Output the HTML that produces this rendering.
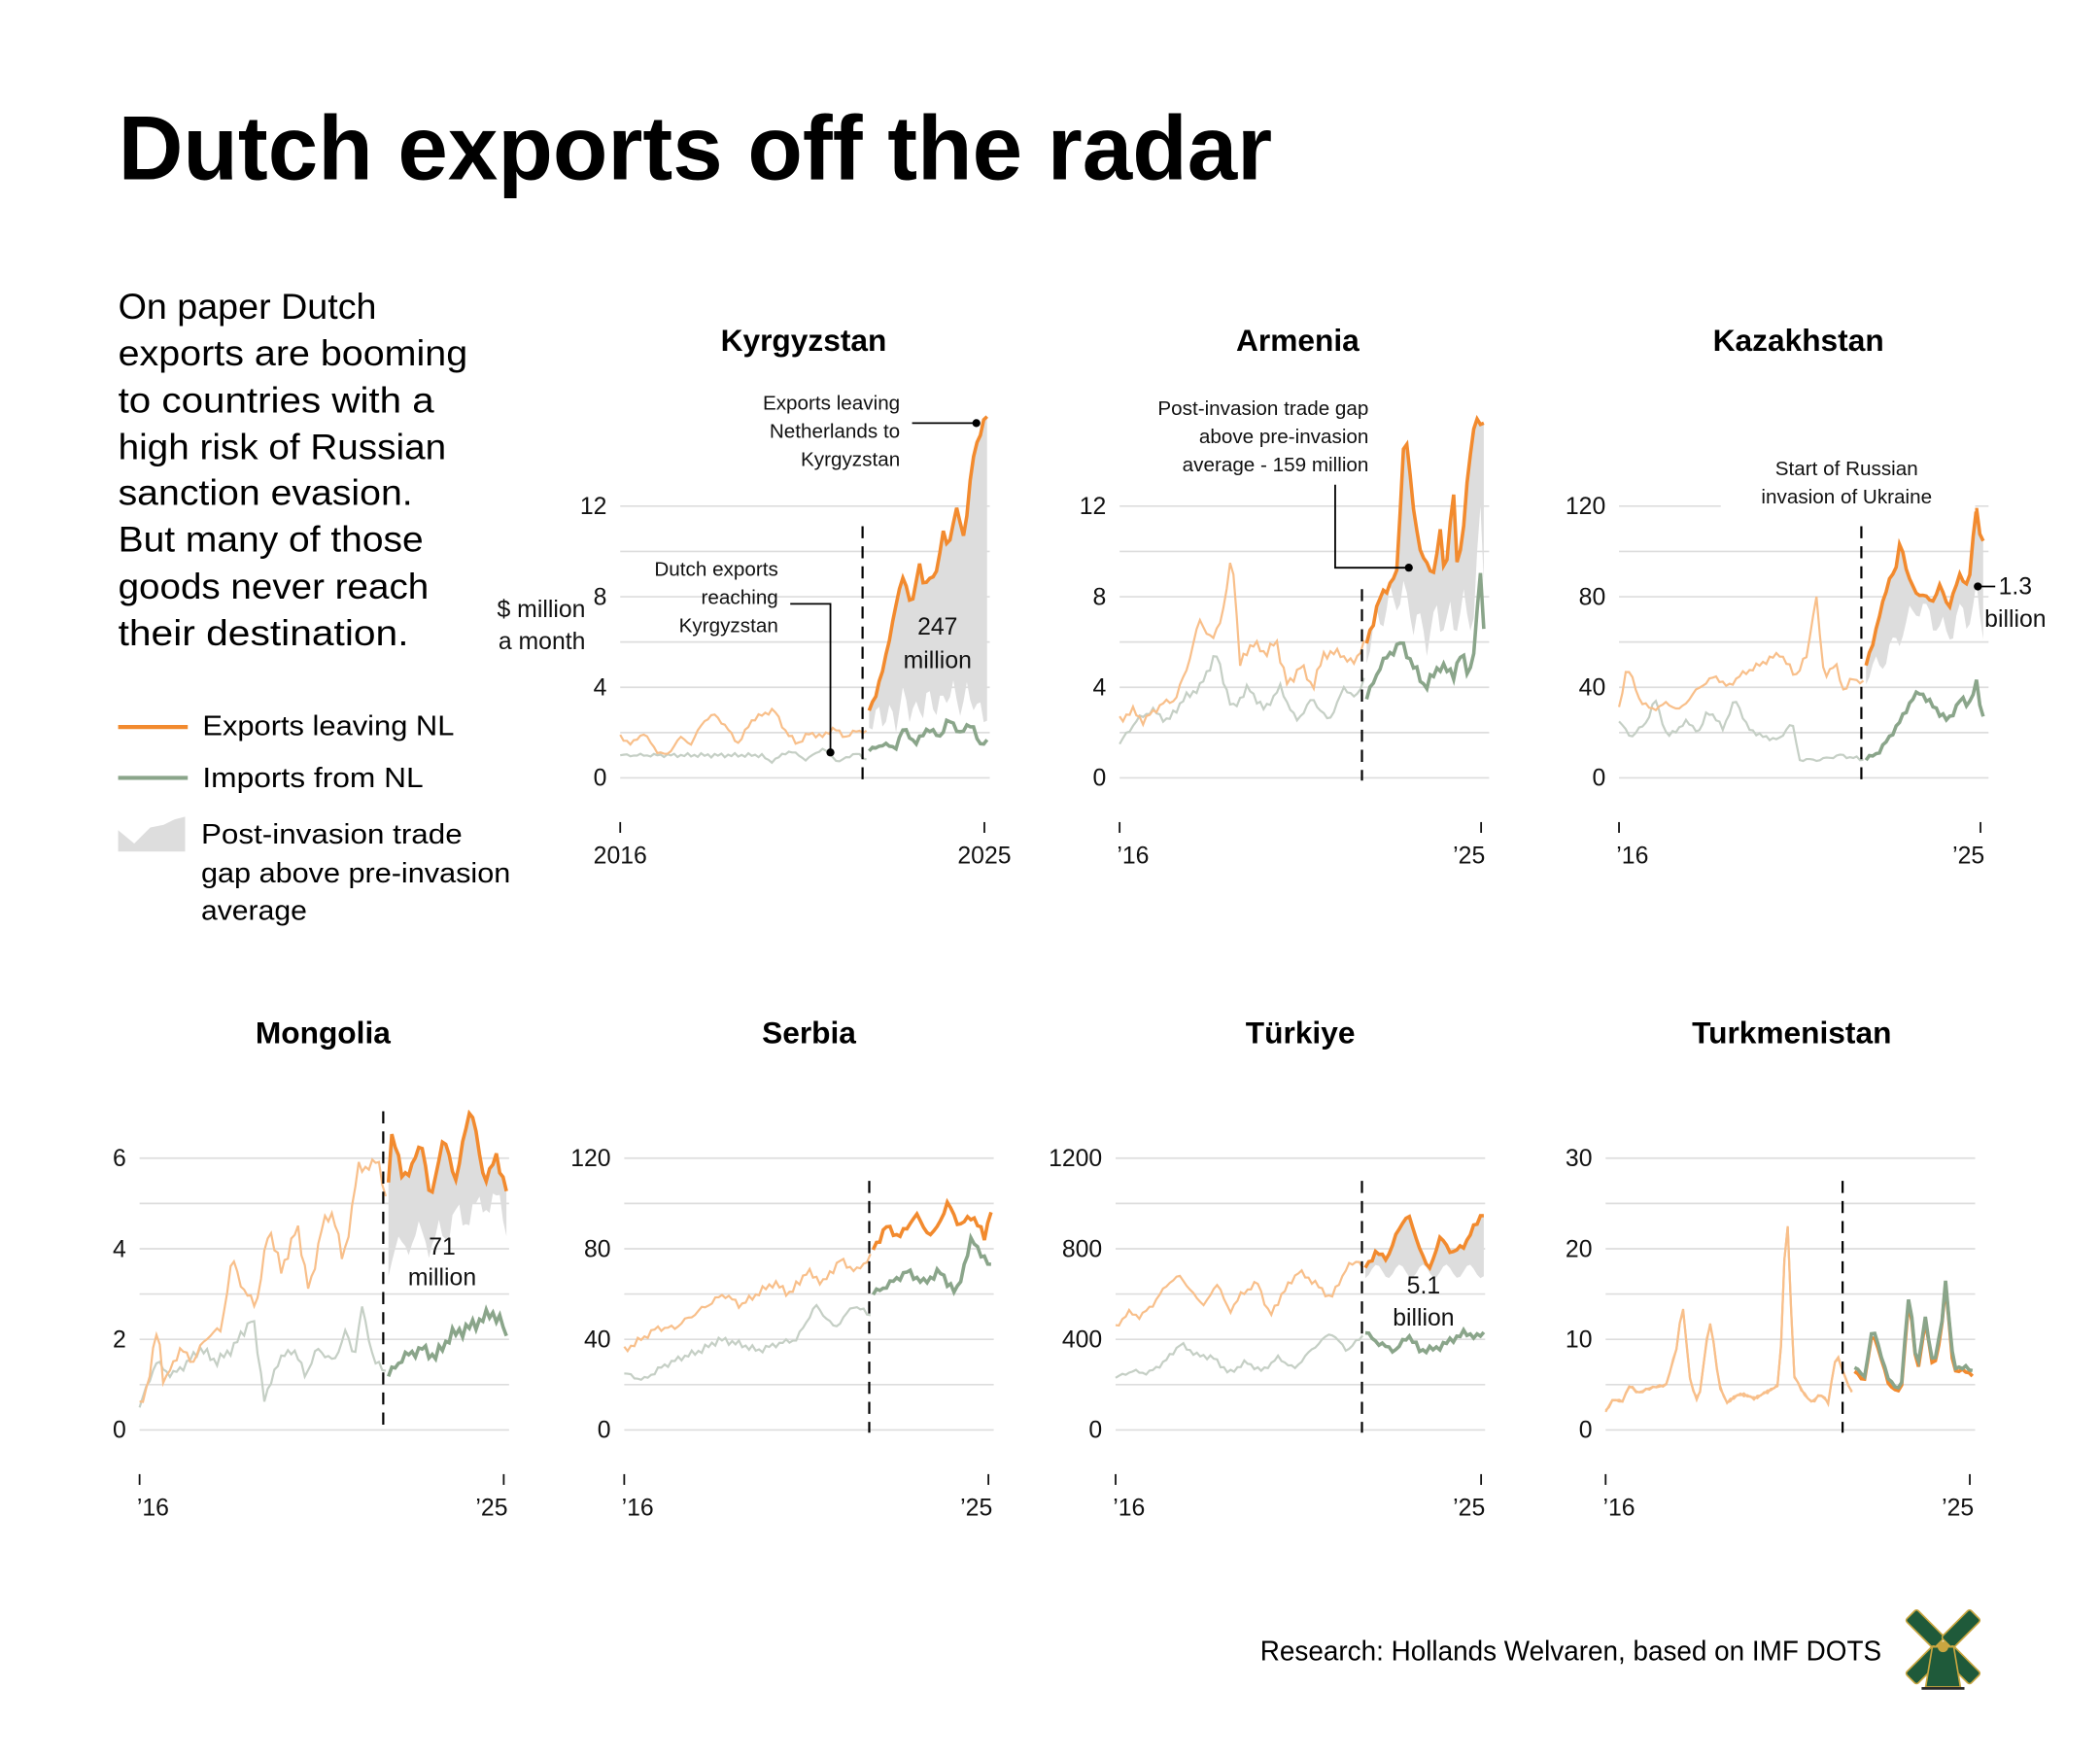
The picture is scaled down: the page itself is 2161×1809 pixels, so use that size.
<!DOCTYPE html>
<html><head><meta charset="utf-8">
<style>
html,body{margin:0;padding:0;background:#fff;}
svg{display:block;font-family:"Liberation Sans Narrow","Liberation Sans",sans-serif;}
</style></head>
<body>
<svg id="s" width="2161" height="1809" viewBox="0 0 1568 1313" xmlns="http://www.w3.org/2000/svg">
<rect width="1568" height="1313" fill="#fff"/>
<text x="88" y="134" font-size="68" font-weight="bold" textLength="862" lengthAdjust="spacingAndGlyphs" fill="#000">Dutch exports off the radar</text>
<g font-size="27" fill="#000">
<text x="88" y="238" textLength="193" lengthAdjust="spacingAndGlyphs">On paper Dutch</text>
<text x="88" y="273" textLength="261" lengthAdjust="spacingAndGlyphs">exports are booming</text>
<text x="88" y="308" textLength="236" lengthAdjust="spacingAndGlyphs">to countries with a</text>
<text x="88" y="343" textLength="245" lengthAdjust="spacingAndGlyphs">high risk of Russian</text>
<text x="88" y="377" textLength="220" lengthAdjust="spacingAndGlyphs">sanction evasion.</text>
<text x="88" y="412" textLength="228" lengthAdjust="spacingAndGlyphs">But many of those</text>
<text x="88" y="447" textLength="232" lengthAdjust="spacingAndGlyphs">goods never reach</text>
<text x="88" y="482" textLength="217" lengthAdjust="spacingAndGlyphs">their destination.</text>
</g>
<line x1="88" y1="543" x2="140" y2="543" stroke="#f28a2e" stroke-width="3"/>
<text x="151" y="549" font-size="21" textLength="188" lengthAdjust="spacingAndGlyphs">Exports leaving NL</text>
<line x1="88" y1="581" x2="140" y2="581" stroke="#8aa58a" stroke-width="3"/>
<text x="151" y="588" font-size="21" textLength="165" lengthAdjust="spacingAndGlyphs">Imports from NL</text>
<path d="M88,636 L88,620 L100,630 L112,618 L122,616 L130,612 L138,610 L138,636 Z" fill="#ddd"/>
<g font-size="21"><text x="150" y="630" textLength="195" lengthAdjust="spacingAndGlyphs">Post-invasion trade</text>
<text x="150" y="659" textLength="231" lengthAdjust="spacingAndGlyphs">gap above pre-invasion</text>
<text x="150" y="687" textLength="79" lengthAdjust="spacingAndGlyphs">average</text></g>
<g id="charts"></g>
<g font-size="15" fill="#111">
<text x="672" y="306" text-anchor="end">Exports leaving</text>
<text x="672" y="327" text-anchor="end">Netherlands to</text>
<text x="672" y="348" text-anchor="end">Kyrgyzstan</text>
<text x="581" y="430" text-anchor="end">Dutch exports</text>
<text x="581" y="451" text-anchor="end">reaching</text>
<text x="581" y="472" text-anchor="end">Kyrgyzstan</text>
<text x="1022" y="310" text-anchor="end">Post-invasion trade gap</text>
<text x="1022" y="331" text-anchor="end">above pre-invasion</text>
<text x="1022" y="352" text-anchor="end">average - 159 million</text>
<rect x="1285" y="338" width="190" height="44" fill="#fff"/>
<text x="1379" y="355" text-anchor="middle">Start of Russian</text>
<text x="1379" y="376" text-anchor="middle">invasion of Ukraine</text>
</g>
<g stroke="#000" stroke-width="1.3" fill="none">
<polyline points="681,316 729,316"/>
<polyline points="590,451 620,451 620,562"/>
<polyline points="997,362 997,424 1052,424"/>
<polyline points="1477,438 1490,438"/>
</g>
<g fill="#000"><circle cx="729" cy="316" r="3"/><circle cx="620" cy="562" r="3"/><circle cx="1052" cy="424" r="3"/><circle cx="1477" cy="438" r="3"/></g>
<g font-size="18" fill="#111" text-anchor="middle">
<text x="700" y="474">247</text><text x="700" y="499">million</text>
<text x="437" y="461" text-anchor="end">$ million</text><text x="437" y="485" text-anchor="end">a month</text>
<text x="1505" y="444">1.3</text><text x="1505" y="468">billion</text>
<text x="330" y="937">71</text><text x="330" y="960">million</text>
<text x="1063" y="966">5.1</text><text x="1063" y="990">billion</text>
</g>
<text x="1405" y="1240" font-size="21" text-anchor="end" textLength="464" lengthAdjust="spacingAndGlyphs">Research: Hollands Welvaren, based on IMF DOTS</text>
<g transform="translate(1451,1230)">
<g fill="#1f5a3a" stroke="#c9a640" stroke-width="1.2">
<rect x="-6" y="-34" width="12" height="30" rx="2" transform="rotate(-45)"/>
<rect x="-6" y="-34" width="12" height="30" rx="2" transform="rotate(45)"/>
<rect x="-6" y="4" width="12" height="30" rx="2" transform="rotate(-45)"/>
<rect x="-6" y="4" width="12" height="30" rx="2" transform="rotate(45)"/>
<path d="M-8,0 L8,0 L13,30 L-13,30 Z"/>
</g>
<circle cx="0" cy="0" r="4" fill="#c9a640"/>
<line x1="-16" y1="31" x2="16" y2="31" stroke="#2b2b2b" stroke-width="2"/>
</g>
</svg>
<script>
var NS="http://www.w3.org/2000/svg",G=document.getElementById("charts");
function el(t,a,p){var e=document.createElementNS(NS,t);for(var k in a)e.setAttribute(k,a[k]);(p||G).appendChild(e);return e;}
function interp(k,t){if(t<=k[0][0])return k[0][1];for(var i=1;i<k.length;i++){if(t<=k[i][0]){var a=k[i-1],b=k[i];return a[1]+(b[1]-a[1])*(t-a[0])/(b[0]-a[0]);}}return k[k.length-1][1];}
function ser(k,amp,seed,t0,t1){var r=[];for(var t=t0;t<=t1+1e-6;t+=1/12){var n=Math.sin(t*37.1+seed)*0.6+Math.sin(t*91.7+seed*2)*0.4;r.push([t,interp(k,t)+n*amp]);}return r;}
function evenK(arr,t0,t1){var r=[];for(var i=0;i<arr.length;i++)r.push([t0+(t1-t0)*i/(arr.length-1),arr[i]]);return r;}
var INV=6.15,END=9.1;
function panel(o){
 var X=function(t){return o.x0+t*(o.tick-o.x0)/9},Y=function(v){return o.y0-v*o.k};
 el("text",{x:o.tc,y:o.ty,"font-size":23,"font-weight":"bold","text-anchor":"middle",fill:"#000"}).textContent=o.name;
 for(var i=0;i<7;i++){var y=o.y0-i*(o.y0-o.ytop)/6;el("line",{x1:o.x0,x2:o.x0+276,y1:y,y2:y,stroke:"#ddd","stroke-width":1.2});}
 for(var i=0;i<4;i++){var y=o.y0-i*(o.y0-o.ytop)/3;var t=el("text",{x:o.x0-10,y:y+6,"font-size":18,"text-anchor":"end",fill:"#111"});t.textContent=o.labs[i];}
 el("line",{x1:o.x0,x2:o.x0,y1:o.y0+33,y2:o.y0+41,stroke:"#111","stroke-width":1.3});
 el("line",{x1:o.tick,x2:o.tick,y1:o.y0+33,y2:o.y0+41,stroke:"#111","stroke-width":1.3});
 el("text",{x:o.x0-(o.full?20:2),y:o.y0+64,"font-size":18,fill:"#111"}).textContent=o.full?"2016":"\u201916";
 el("text",{x:o.tick+(o.full?20:3),y:o.y0+64,"font-size":18,fill:"#111","text-anchor":"end"}).textContent=o.full?"2025":"\u201925";
 var ep=ser(o.ePre,o.amp,1,0,INV),eq=ser(o.ePost,o.amp*1.2,2,INV,END);
 var ip=ser(o.iPre,o.amp*0.8,3,0,INV),iq=ser(o.iPost,o.amp,4,INV,END);
 var pts=function(a){return a.map(function(p){return X(p[0]).toFixed(1)+","+Y(p[1]).toFixed(1)}).join(" ")};
 if(o.gap){var low=iq.map(function(p,j){return [p[0],o.gap(p[0],p[1],eq[j][1])]});
  var d="M"+pts(eq).split(" ").join(" L")+" L"+pts(low.slice().reverse()).split(" ").join(" L")+" Z";
  el("path",{d:d,fill:"#ddd"});}
 el("polyline",{points:pts(ip),fill:"none",stroke:o.tk?"#f8bf8a":"#c5cfc5","stroke-width":1.6});
 el("polyline",{points:pts(ep),fill:"none",stroke:"#f8bf8a","stroke-width":1.6});
 el("line",{x1:o.dx,x2:o.dx,y1:o.dy,y2:o.y0+2,stroke:"#000","stroke-width":1.6,"stroke-dasharray":"9,6"});
 if(o.tk){el("polyline",{points:pts(eq),fill:"none",stroke:"#f28a2e","stroke-width":2.6});el("polyline",{points:pts(iq),fill:"none",stroke:"#8aa58a","stroke-width":2.6});}
 else{el("polyline",{points:pts(iq),fill:"none",stroke:"#8aa58a","stroke-width":2.6});el("polyline",{points:pts(eq),fill:"none",stroke:"#f28a2e","stroke-width":2.6});}
}
panel({name:"Kyrgyzstan",tc:600,ty:262,x0:463,tick:735,y0:581,ytop:378,k:16.92,labs:[0,4,8,12],full:1,dx:644,dy:393,amp:0.12,
 ePre:evenK([1.8,1.5,2.0,1.2,1.0,1.8,1.5,2.5,2.8,2.2,1.5,2.5,2.8,3.0,2.0,1.5,2.0,1.8,2.2,1.8,2.1,2.0],0,INV),
 ePost:[[6.15,3],[6.3,3.6],[6.5,4.8],[6.8,7.5],[7.0,9],[7.2,7.5],[7.4,9.5],[7.5,8.5],[7.8,9],[8.0,11],[8.1,10],[8.3,12],[8.5,10.5],[8.7,14],[8.95,15.5],[9.05,16.4],[9.1,15.3]],
 iPre:[[0,1.0],[3.5,1.0],[3.7,0.7],[4.2,1.2],[4.6,0.8],[5.0,1.3],[5.4,0.7],[5.8,1.1],[6.1,0.8]],
 iPost:[[6.15,1.2],[6.5,1.5],[6.8,1.3],[7.0,2.2],[7.3,1.5],[7.6,2.2],[7.9,1.8],[8.1,2.6],[8.4,2.0],[8.7,2.4],[8.9,1.4],[9.1,1.7]],
 gap:function(t,i,e){return Math.min(e,i+1.3+0.6*Math.sin(t*20));}});
panel({name:"Armenia",tc:969,ty:262,x0:836,tick:1106,y0:581,ytop:378,k:16.92,labs:[0,4,8,12],dx:1017,dy:440,amp:0.25,
 ePre:[[0,2.5],[0.3,3],[0.6,2.5],[1.0,3.2],[1.4,3.5],[1.7,5],[2.0,7],[2.3,6],[2.6,7.5],[2.8,10],[3.0,5],[3.3,6],[3.6,5.5],[3.9,6],[4.2,4],[4.5,5],[4.8,4],[5.1,5.5],[5.5,5.5],[5.8,5],[6.1,6]],
 ePost:[[6.15,6],[6.5,8],[6.9,9],[7.1,15.7],[7.3,12],[7.5,10],[7.6,9.5],[7.8,9],[8.0,11],[8.1,8.5],[8.3,13],[8.4,9.5],[8.5,10],[8.7,14],[8.9,16],[9.0,15.5],[9.1,16]],
 iPre:[[0,1.5],[0.4,2.5],[0.8,3],[1.2,2.5],[1.6,3.5],[2.0,4],[2.4,5.5],[2.8,3],[3.2,4],[3.6,3],[4.0,4],[4.4,2.5],[4.8,3.5],[5.2,2.5],[5.6,4],[5.9,3.5],[6.1,4.5]],
 iPost:[[6.15,3.5],[6.5,5],[7.0,6],[7.3,5],[7.6,4],[8.0,5],[8.3,4.5],[8.5,5.5],[8.7,4.5],[8.85,6],[9.0,9.5],[9.1,5]],
 gap:function(t,i,e){return Math.min(e,i+2.2+0.8*Math.sin(t*17));}});
panel({name:"Kazakhstan",tc:1343,ty:262,x0:1209,tick:1479,y0:581,ytop:378,k:1.692,labs:[0,40,80,120],dx:1390,dy:393,amp:1.5,
 ePre:[[0,30],[0.2,50],[0.5,35],[0.8,30],[1.2,33],[1.5,30],[2.0,40],[2.4,45],[2.7,40],[3.0,45],[3.5,50],[4.0,55],[4.4,45],[4.7,55],[4.9,82],[5.1,45],[5.4,50],[5.6,38],[5.8,44],[6.1,42]],
 ePost:[[6.15,50],[6.4,65],[6.7,87],[6.9,92],[7.0,106],[7.2,88],[7.4,82],[7.8,78],[8.0,85],[8.2,75],[8.5,90],[8.7,84],[8.9,120],[9.0,105],[9.1,106]],
 iPre:[[0,25],[0.3,18],[0.7,25],[0.9,35],[1.2,18],[1.7,25],[2.0,20],[2.2,30],[2.6,22],[2.9,35],[3.2,22],[3.6,18],[4.0,17],[4.3,25],[4.5,8],[5.0,8],[5.5,10],[6.1,8]],
 iPost:[[6.15,8],[6.5,12],[7.0,25],[7.3,35],[7.5,38],[7.8,32],[8.2,25],[8.5,35],[8.7,32],[8.9,42],[9.05,25],[9.1,30]],
 gap:function(t,i,e){return Math.min(e,i+38+5*Math.sin(t*15));}});
panel({name:"Mongolia",tc:241,ty:779,x0:104,tick:376,y0:1068,ytop:865,k:33.83,labs:[0,2,4,6],dx:286,dy:830,amp:0.15,
 ePre:[[0,0.5],[0.2,1],[0.45,2.3],[0.6,1],[1.0,1.8],[1.3,1.5],[1.7,2.1],[2.0,2.2],[2.3,3.8],[2.6,3],[2.9,2.8],[3.2,4.5],[3.5,3.5],[3.9,4.5],[4.2,3],[4.5,4.5],[4.8,4.8],[5.0,3.8],[5.1,4],[5.4,5.8],[5.7,5.8],[5.9,6],[6.1,5]],
 ePost:[[6.15,5.5],[6.25,6.7],[6.5,5.5],[7.0,6.3],[7.2,5],[7.5,6.5],[7.8,5.5],[8.2,7.2],[8.5,5.5],[8.8,6],[9.1,5.3]],
 iPre:[[0,0.5],[0.4,1.5],[0.8,1.2],[1.2,1.5],[1.5,1.8],[1.9,1.5],[2.3,1.8],[2.8,2.5],[3.1,0.6],[3.4,1.5],[3.8,1.8],[4.1,1.2],[4.4,1.8],[4.8,1.5],[5.1,2.2],[5.3,1.6],[5.5,2.7],[5.8,1.5],[6.1,1.3]],
 iPost:[[6.15,1.2],[6.5,1.6],[7.0,1.8],[7.3,1.6],[7.7,2.1],[8.0,2.2],[8.4,2.4],[8.7,2.6],[9.0,2.3],[9.1,1.9]],
 gap:function(t,i,e){return Math.min(e,i+2.5+0.3*Math.sin(t*13));}});
panel({name:"Serbia",tc:604,ty:779,x0:466,tick:738,y0:1068,ytop:865,k:1.692,labs:[0,40,80,120],dx:649,dy:882,amp:2,
 ePre:evenK([35,40,45,45,50,55,60,55,60,65,60,70,65,75,70,78],0,INV),
 ePost:[[6.15,80],[6.5,90],[6.8,85],[7.2,95],[7.6,85],[8.0,100],[8.3,90],[8.6,95],[8.9,85],[9.1,100]],
 iPre:evenK([25,22,28,32,35,40,38,35,38,40,55,45,55,50],0,INV),
 iPost:[[6.15,60],[6.6,65],[7.0,70],[7.4,65],[7.8,70],[8.2,60],[8.6,85],[8.9,75],[9.1,72]]});
panel({name:"T\u00fcrkiye",tc:971,ty:779,x0:833,tick:1106,y0:1068,ytop:865,k:0.1692,labs:[0,400,800,1200],dx:1017,dy:882,amp:15,
 ePre:[[0,450],[0.3,520],[0.6,500],[0.9,550],[1.3,650],[1.6,680],[1.9,600],[2.2,550],[2.5,650],[2.8,520],[3.1,600],[3.5,650],[3.8,500],[4.1,600],[4.5,700],[4.9,650],[5.3,580],[5.7,720],[6.0,750],[6.1,700]],
 ePost:[[6.15,720],[6.4,780],[6.7,760],[7.0,900],[7.2,950],[7.5,800],[7.7,700],[8.0,850],[8.3,780],[8.6,820],[9.0,950],[9.1,960]],
 iPre:[[0,230],[0.4,260],[0.8,250],[1.2,300],[1.6,380],[2.0,330],[2.4,320],[2.8,250],[3.2,300],[3.6,260],[4.0,320],[4.4,270],[4.8,350],[5.3,430],[5.7,350],[6.1,420]],
 iPost:[[6.15,430],[6.5,380],[6.9,350],[7.2,420],[7.5,350],[7.9,360],[8.3,400],[8.6,430],[8.9,410],[9.1,430]],
 gap:function(t,i,e){return Math.min(e,700+30*Math.sin(t*11));}});
var tkK=[[0,2],[0.2,3.5],[0.4,3],[0.6,5],[0.8,4],[1.0,4.5],[1.5,5],[1.75,9],[1.9,14],[2.1,5],[2.3,3],[2.5,10],[2.6,12],[2.8,5],[3.0,3],[3.3,4],[3.7,3.5],[4.3,5],[4.4,18],[4.5,22.5],[4.65,6],[4.9,4],[5.1,3],[5.3,4],[5.5,3],[5.7,8.5],[5.9,6],[6.1,4]];
var tkP=[[6.15,6.5],[6.4,5.5],[6.6,11],[6.8,8],[7.0,5],[7.3,4],[7.5,15],[7.7,6],[7.9,12],[8.1,6.5],[8.3,11],[8.4,16],[8.6,6.5],[8.9,6.5],[9.1,6]];
panel({name:"Turkmenistan",tc:1338,ty:779,x0:1199,tick:1471,y0:1068,ytop:865,k:6.77,labs:[0,10,20,30],dx:1376,dy:882,amp:0.2,tk:1,
 ePre:tkK,ePost:tkP,iPre:tkK,iPost:tkP.map(function(p){return [p[0],p[1]+0.4]})});
</script>
</body></html>
